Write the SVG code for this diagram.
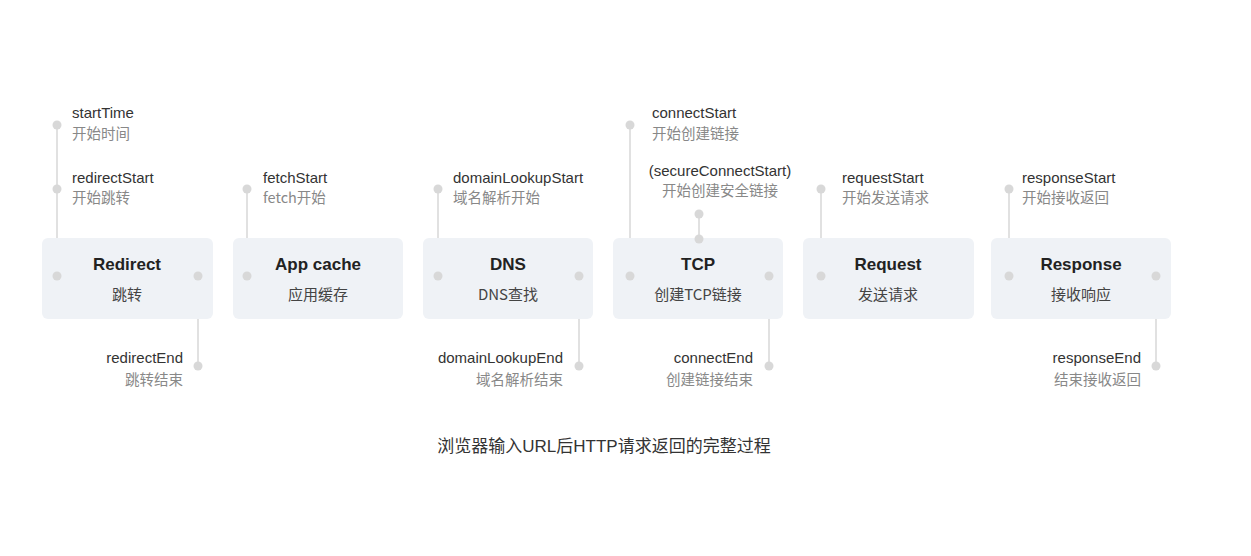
<svg xmlns="http://www.w3.org/2000/svg" width="1251" height="556" viewBox="0 0 1251 556">
<style>
.box{fill:#eff2f6}
.ttl{font-family:"Liberation Sans","Noto Sans CJK SC",sans-serif;font-size:17px;font-weight:bold;fill:#222;text-anchor:middle}
.sub{font-family:"Noto Sans CJK SC",sans-serif;font-size:15px;fill:#444;text-anchor:middle}
.en{font-family:"Liberation Sans","Noto Sans CJK SC",sans-serif;font-size:15px;fill:#333}
.zh{font-family:"Noto Sans CJK SC",sans-serif;font-size:14.5px;fill:#888}
.r{text-anchor:end}
.m{text-anchor:middle}
.ln{stroke:#dedede;stroke-width:1.8;fill:none}
.dot{fill:#d8d8d8}
.cap{font-family:"Liberation Sans","Noto Sans CJK SC",sans-serif;font-size:17px;fill:#333;text-anchor:middle}
</style>
<rect width="1251" height="556" fill="#ffffff"/>
<g id="connectors">
<line class="ln" x1="57" y1="125" x2="57" y2="276"/>
<line class="ln" x1="198" y1="276" x2="198" y2="366"/>
<line class="ln" x1="247" y1="189" x2="247" y2="276"/>
<line class="ln" x1="438" y1="189" x2="438" y2="276"/>
<line class="ln" x1="579" y1="276" x2="579" y2="366"/>
<line class="ln" x1="630" y1="125" x2="630" y2="276"/>
<line class="ln" x1="699" y1="214" x2="699" y2="239"/>
<line class="ln" x1="769" y1="276" x2="769" y2="366"/>
<line class="ln" x1="821" y1="189" x2="821" y2="276"/>
<line class="ln" x1="1009" y1="189" x2="1009" y2="276"/>
<line class="ln" x1="1156" y1="276" x2="1156" y2="366"/>
</g>
<g id="redirect">
<rect class="box" x="42" y="238" width="171" height="81" rx="6"/>
<text class="ttl" x="127" y="270">Redirect</text>
<text class="sub" x="127" y="300">跳转</text>
</g>
<g id="appcache">
<rect class="box" x="233" y="238" width="170" height="81" rx="6"/>
<text class="ttl" x="318" y="270">App cache</text>
<text class="sub" x="318" y="300">应用缓存</text>
</g>
<g id="dns">
<rect class="box" x="423" y="238" width="170" height="81" rx="6"/>
<text class="ttl" x="508" y="270">DNS</text>
<text class="sub" x="508" y="300">DNS查找</text>
</g>
<g id="tcp">
<rect class="box" x="613" y="238" width="170" height="81" rx="6"/>
<text class="ttl" x="698" y="270">TCP</text>
<text class="sub" x="698" y="300">创建TCP链接</text>
</g>
<g id="request">
<rect class="box" x="803" y="238" width="171" height="81" rx="6"/>
<text class="ttl" x="888" y="270">Request</text>
<text class="sub" x="888" y="300">发送请求</text>
</g>
<g id="response">
<rect class="box" x="991" y="238" width="180" height="81" rx="6"/>
<text class="ttl" x="1081" y="270">Response</text>
<text class="sub" x="1081" y="300">接收响应</text>
</g>
<g id="startTime">
<circle class="dot" cx="57" cy="125" r="4.5"/>
<text class="en" x="72" y="118">startTime</text>
<text class="zh" x="72" y="139">开始时间</text>
</g>
<g id="redirectStart">
<circle class="dot" cx="57" cy="189" r="4.5"/>
<circle class="dot" cx="57" cy="276" r="4.5"/>
<text class="en" x="72" y="183">redirectStart</text>
<text class="zh" x="72" y="203">开始跳转</text>
</g>
<g id="redirectEnd">
<circle class="dot" cx="198" cy="276" r="4.5"/>
<circle class="dot" cx="198" cy="366" r="4.5"/>
<text class="en r" x="183" y="363">redirectEnd</text>
<text class="zh r" x="183" y="385">跳转结束</text>
</g>
<g id="fetchStart">
<circle class="dot" cx="247" cy="189" r="4.5"/>
<circle class="dot" cx="247" cy="276" r="4.5"/>
<text class="en" x="263" y="183">fetchStart</text>
<text class="zh" x="263" y="203">fetch开始</text>
</g>
<g id="domainLookupStart">
<circle class="dot" cx="438" cy="189" r="4.5"/>
<circle class="dot" cx="438" cy="276" r="4.5"/>
<text class="en" x="453" y="183">domainLookupStart</text>
<text class="zh" x="453" y="203">域名解析开始</text>
</g>
<g id="domainLookupEnd">
<circle class="dot" cx="579" cy="276" r="4.5"/>
<circle class="dot" cx="579" cy="366" r="4.5"/>
<text class="en r" x="563" y="363">domainLookupEnd</text>
<text class="zh r" x="563" y="385">域名解析结束</text>
</g>
<g id="connectStart">
<circle class="dot" cx="630" cy="125" r="4.5"/>
<circle class="dot" cx="630" cy="276" r="4.5"/>
<text class="en" x="652" y="118">connectStart</text>
<text class="zh" x="652" y="139">开始创建链接</text>
</g>
<g id="secureConnectStart">
<circle class="dot" cx="699" cy="214" r="4.5"/>
<circle class="dot" cx="699" cy="239" r="4.5"/>
<text class="en m" x="720" y="176" fill="#777">(secureConnectStart)</text>
<text class="zh m" x="720" y="196">开始创建安全链接</text>
</g>
<g id="connectEnd">
<circle class="dot" cx="769" cy="276" r="4.5"/>
<circle class="dot" cx="769" cy="366" r="4.5"/>
<text class="en r" x="753" y="363">connectEnd</text>
<text class="zh r" x="753" y="385">创建链接结束</text>
</g>
<g id="requestStart">
<circle class="dot" cx="821" cy="189" r="4.5"/>
<circle class="dot" cx="821" cy="276" r="4.5"/>
<text class="en" x="842" y="183">requestStart</text>
<text class="zh" x="842" y="203">开始发送请求</text>
</g>
<g id="responseStart">
<circle class="dot" cx="1009" cy="189" r="4.5"/>
<circle class="dot" cx="1009" cy="276" r="4.5"/>
<text class="en" x="1022" y="183">responseStart</text>
<text class="zh" x="1022" y="203">开始接收返回</text>
</g>
<g id="responseEnd">
<circle class="dot" cx="1156" cy="276" r="4.5"/>
<circle class="dot" cx="1156" cy="366" r="4.5"/>
<text class="en r" x="1141" y="363">responseEnd</text>
<text class="zh r" x="1141" y="385">结束接收返回</text>
</g>
<g id="caption">
<text class="cap" x="604" y="452">浏览器输入URL后HTTP请求返回的完整过程</text>
</g>
</svg>
